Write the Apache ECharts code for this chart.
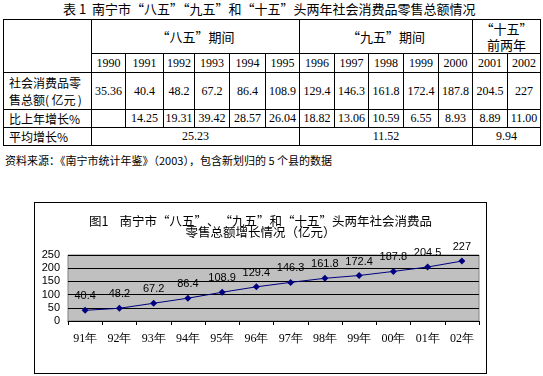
<!DOCTYPE html>
<html>
<head>
<meta charset="utf-8">
<script src="https://cdn.jsdelivr.net/npm/echarts@6/dist/echarts.min.js"></script>
<style>
    body { margin:0; background:#fff; width:543px; height:376px; position:relative; overflow:hidden;
           font-family:"Liberation Serif","Noto Sans CJK SC",serif; color:#000; }
    .cell { position:absolute; box-sizing:border-box; border:1px solid #000; display:flex;
            align-items:center; justify-content:center; text-align:center; font-size:12px; line-height:15px; }
    .cn { font-family:"Noto Sans CJK SC",sans-serif; white-space:nowrap; }
    .txt { position:absolute; white-space:nowrap; font-family:"Noto Sans CJK SC",sans-serif; }
    #chart-box { position:absolute; left:34px; top:202px; width:451px; height:170px; border:1px solid #000; }
    #chart { width:451px; height:170px; }
</style>
</head>
<body>
<div class="txt" style="left:63px;top:0px;font-size:13px;line-height:18px;">表 1&nbsp; 南宁市“八五”“九五”和“十五”头两年社会消费品零售总额情况</div>
<div id="table"></div>
<div class="txt" style="left:5px;top:152px;font-size:11px;line-height:16px;">资料来源：《南宁市统计年鉴》（2003），包含新划归的 5 个县的数据</div>
<div id="chart-box"><div id="chart"></div></div>
<script>
// 表格数据
var tableYears = ['1990','1991','1992','1993','1994','1995','1996','1997','1998','1999','2000','2001','2002'];
var retailTotals = ['35.36','40.4','48.2','67.2','86.4','108.9','129.4','146.3','161.8','172.4','187.8','204.5','227'];
var growthRates = ['','14.25','19.31','39.42','28.57','26.04','18.82','13.06','10.59','6.55','8.93','8.89','11.00'];
var periodNames = ['“八五”期间','“九五”期间','“十五”<br>前两年'];
var avgGrowth = ['25.23','11.52','9.94'];

// 图表数据
var chartCategories = ['91年','92年','93年','94年','95年','96年','97年','98年','99年','00年','01年','02年'];
var chartValues = [40.4, 48.2, 67.2, 86.4, 108.9, 129.4, 146.3, 161.8, 172.4, 187.8, 204.5, 227];

var colX = [3,91,125,163,194,229,265,299,334,368,403,438,472,507,540];
var rowY = [19,53,72,109,127,145];
var table = document.getElementById('table');

function cell(x1, y1, x2, y2, html, cls, style){
    var d = document.createElement('div');
    d.className = 'cell' + (cls ? ' ' + cls : '');
    d.style.left = x1 + 'px';
    d.style.top = y1 + 'px';
    d.style.width = (x2 - x1 + 1) + 'px';
    d.style.height = (y2 - y1 + 1) + 'px';
    if (style) d.style.cssText += style;
    d.innerHTML = html;
    table.appendChild(d);
}

cell(colX[0], rowY[0], colX[1], rowY[2], '');
var spans = [[1,7],[7,12],[12,14]];
spans.forEach(function(s, i){
    cell(colX[s[0]], rowY[0], colX[s[1]], rowY[1], periodNames[i], 'cn', 'font-size:13px;line-height:16px;');
});
tableYears.forEach(function(y, i){
    cell(colX[i+1], rowY[1], colX[i+2], rowY[2], y);
});
var leftStyle = 'justify-content:flex-start;text-align:left;padding-left:5px;font-size:12px;';
cell(colX[0], rowY[2], colX[1], rowY[3], '社会消费品零<br>售总额(&thinsp;亿元&thinsp;)', 'cn', leftStyle + 'line-height:17px;');
retailTotals.forEach(function(v, i){
    cell(colX[i+1], rowY[2], colX[i+2], rowY[3], v);
});
cell(colX[0], rowY[3], colX[1], rowY[4], '比上年增长%', 'cn', leftStyle);
growthRates.forEach(function(v, i){
    cell(colX[i+1], rowY[3], colX[i+2], rowY[4], v);
});
cell(colX[0], rowY[4], colX[1], rowY[5], '平均增长%', 'cn', leftStyle);
spans.forEach(function(s, i){
    cell(colX[s[0]], rowY[4], colX[s[1]], rowY[5], avgGrowth[i]);
});

var chart = echarts.init(document.getElementById('chart'));
var option = {
    animation: false,
    title: {
        text: '图1    南宁市“八五”、“九五”和“十五”头两年社会消费品\n零售总额增长情况（亿元）',
        left: 'center',
        top: 8,
        textStyle: {
            fontFamily: 'Noto Sans CJK SC',
            fontSize: 12.5,
            fontWeight: 'normal',
            lineHeight: 11,
            color: '#000'
        }
    },
    grid: {
        left: 33,
        top: 52,
        width: 411,
        height: 66,
        show: true,
        backgroundColor: '#c0c0c0',
        borderColor: '#808080',
        borderWidth: 1
    },
    xAxis: {
        type: 'category',
        data: chartCategories,
        boundaryGap: true,
        axisLine: { lineStyle: { color: '#000', width: 1 } },
        axisTick: { show: true, inside: false, length: 4, lineStyle: { color: '#000' } },
        axisLabel: {
            interval: 0,
            margin: 12,
            fontSize: 12,
            fontFamily: 'Liberation Serif',
            color: '#000'
        }
    },
    yAxis: {
        type: 'value',
        min: 0,
        max: 250,
        interval: 50,
        axisLine: { show: false },
        axisTick: { show: false },
        splitLine: { lineStyle: { color: '#000', width: 1 } },
        axisLabel: {
            margin: 8,
            fontSize: 11,
            fontFamily: 'Liberation Sans',
            color: '#000'
        }
    },
    series: [
        {
            type: 'line',
            data: chartValues,
            symbol: 'diamond',
            symbolSize: 7,
            lineStyle: { color: '#000080', width: 1 },
            itemStyle: { color: '#000080' },
            label: {
                show: true,
                position: 'top',
                distance: 5,
                fontSize: 11,
                fontFamily: 'Liberation Sans',
                color: '#000'
            }
        }
    ]
};
chart.setOption(option);
</script>
</body>
</html>
